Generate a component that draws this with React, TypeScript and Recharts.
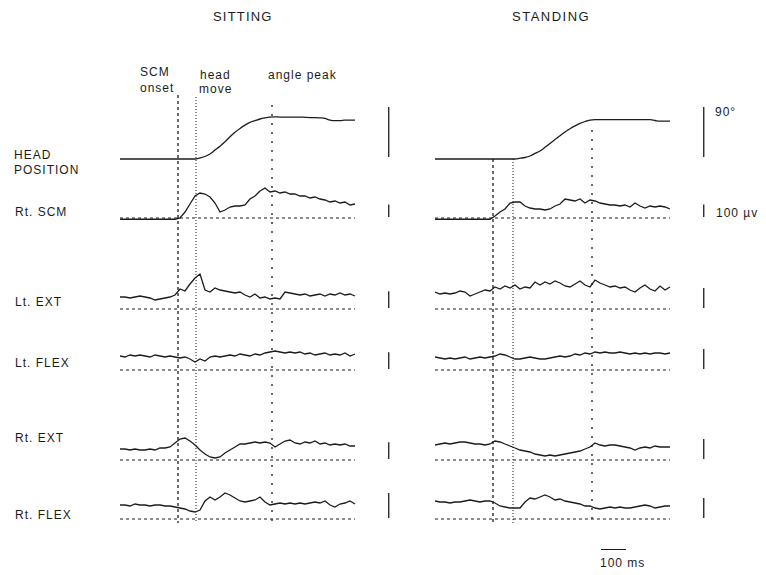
import { LineChart, Line, XAxis, YAxis, ReferenceLine } from 'recharts';

// sample times, ms from the start of each sweep
const time = [
  0, 20, 40, 60, 80, 100, 120, 140, 160, 180, 200, 220, 240, 260, 280, 300,
  320, 340, 360, 380, 400, 420, 440, 460, 480, 500, 520, 540, 560, 580, 600, 620,
  640, 660, 680, 700, 720, 740, 760, 780, 800, 820, 840, 860, 880, 900, 920, 940,
];

// SITTING: head angle (deg) and EMG (uV)
const sitHead = [
  0, 0, 0, 0, 0, 0, 0, 0, 0, 0, 0, 0, 0, 0, 0, 0,
  2, 4.5, 9, 16, 23, 31, 40, 48, 55, 61, 66, 69, 72, 74, 75.5, 76,
  75.5, 75.5, 75.5, 75.5, 75.5, 75, 74.5, 74.5, 74, 73, 70, 69, 69, 70, 70, 70,
];
const sitScm = [
  -10, -10, -10, -10, -10, -10, -10, -10, -10, -10, -10, -10, 0, 48, 112, 176,
  200, 192, 168, 120, 48, 64, 88, 96, 96, 104, 152, 176, 216, 240, 208, 216,
  200, 208, 192, 192, 176, 176, 160, 168, 152, 144, 128, 136, 120, 128, 104, 112,
];
const sitLtExt = [
  72, 72, 66, 72, 78, 72, 66, 54, 60, 66, 72, 84, 120, 108, 150, 186,
  210, 114, 102, 126, 114, 108, 102, 96, 102, 84, 72, 90, 66, 72, 60, 66,
  60, 102, 96, 90, 84, 90, 78, 84, 90, 78, 90, 84, 96, 84, 90, 78,
];
const sitLtFlex = [
  84, 78, 90, 84, 90, 84, 78, 90, 84, 78, 84, 78, 72, 78, 66, 48,
  66, 54, 78, 84, 78, 84, 90, 84, 96, 90, 84, 96, 90, 102, 108, 114,
  108, 102, 108, 102, 108, 96, 102, 90, 96, 102, 90, 96, 90, 102, 84, 96,
];
const sitRtExt = [
  66, 66, 60, 66, 60, 60, 66, 60, 72, 72, 78, 102, 126, 132, 114, 90,
  60, 36, 18, 12, 18, 42, 60, 78, 96, 96, 102, 108, 102, 108, 102, 78,
  96, 114, 120, 102, 96, 108, 102, 114, 96, 102, 90, 96, 90, 96, 84, 84,
];
const sitRtFlex = [
  56, 56, 52, 60, 56, 56, 52, 56, 56, 52, 52, 48, 44, 40, 32, 28,
  36, 72, 88, 76, 88, 104, 96, 84, 72, 68, 72, 76, 88, 68, 56, 60,
  64, 60, 64, 60, 64, 60, 64, 68, 64, 72, 56, 48, 60, 64, 72, 60,
];

// STANDING
const standHead = [
  0, 0, 0, 0, 0, 0, 0, 0, 0, 0, 0, 0, 0, 0, 0, 0,
  0, 1.4, 2.7, 5.4, 10, 14.5, 21, 28, 35, 42, 48.5, 54.5, 59.5, 64, 67.5, 70,
  70.7, 70.7, 70.7, 70.7, 70.7, 70.7, 70.7, 70.7, 70.7, 70.7, 70.7, 70.7, 69.3, 68, 68, 68,
];
const standScm = [
  -10, -10, -10, -10, -10, -10, -10, -10, -10, -10, -10, -10, 16, 48, 72, 120,
  128, 128, 96, 80, 72, 72, 64, 72, 96, 112, 152, 144, 136, 152, 120, 144,
  136, 120, 112, 104, 104, 96, 104, 88, 120, 96, 80, 96, 88, 96, 88, 72,
];
const standLtExt = [
  85, 75, 80, 75, 80, 90, 85, 65, 75, 85, 95, 90, 110, 100, 115, 105,
  120, 100, 110, 105, 135, 120, 135, 125, 140, 130, 115, 110, 125, 140, 120, 110,
  145, 130, 120, 110, 115, 105, 110, 95, 85, 105, 120, 100, 90, 115, 95, 110,
];
const standLtFlex = [
  65, 60, 55, 60, 55, 60, 65, 55, 60, 65, 60, 65, 70, 80, 75, 65,
  55, 55, 60, 65, 60, 55, 55, 60, 65, 70, 65, 70, 80, 75, 85, 80,
  90, 85, 90, 85, 85, 90, 85, 80, 85, 80, 85, 80, 85, 85, 80, 85,
];
const standRtExt = [
  75, 80, 85, 80, 85, 90, 90, 85, 80, 80, 75, 80, 95, 90, 80, 70,
  60, 50, 45, 40, 30, 25, 20, 25, 20, 25, 30, 35, 40, 45, 55, 65,
  85, 75, 70, 75, 75, 70, 65, 60, 50, 60, 65, 60, 70, 65, 65, 65,
];
const standRtFlex = [
  90, 85, 85, 80, 85, 85, 90, 95, 90, 85, 90, 90, 80, 65, 60, 55,
  55, 55, 85, 105, 100, 110, 120, 110, 95, 100, 90, 85, 80, 75, 65, 65,
  55, 50, 55, 60, 55, 60, 55, 55, 60, 65, 70, 65, 55, 60, 65, 65,
];

// event markers: SCM onset, head move, angle peak (ms)
const sitEvents = [232, 304, 608];
const standEvents = [232, 312, 628];

const channels = ['head', 'scm', 'ltExt', 'ltFlex', 'rtExt', 'rtFlex'];
const channelLabels = ['Rt. SCM', 'Lt. EXT', 'Lt. FLEX', 'Rt. EXT', 'Rt. FLEX'];

// baseline of each trace on the stacked y scale (1 unit = 1 px)
const LEVEL: Record<string, number> = { head: 376, scm: 317, ltExt: 226, ltFlex: 165, rtExt: 75, rtFlex: 16 };

const INK = '#1c1c1c';
const FONT = '"Liberation Sans", Arial, Helvetica, sans-serif';

type PanelProps = {
  left: number;
  series: Record<string, number[]>;
  gain: Record<string, number>;
  events: number[];
  eventTops: number[];
};

function TracePanel({ left, series, gain, events, eventTops }: PanelProps) {
  const rows = time.map((t, i) => {
    const row: Record<string, number> = { t };
    channels.forEach((c) => {
      row[c] = LEVEL[c] + series[c][i] * gain[c];
    });
    return row;
  });
  const eventDash = ['3 3', '1 2', '2 7'];

  return (
    <div style={{ position: 'absolute', left, top: 95 }}>
      <LineChart width={325} height={480} data={rows} margin={{ top: 0, right: 0, bottom: 0, left: 0 }}>
        <XAxis type="number" dataKey="t" domain={[0, 1300]} hide />
        <YAxis type="number" domain={[-40, 440]} hide />
        {channels.slice(1).map((c) => (
          <ReferenceLine
            key={'base-' + c}
            segment={[{ x: 0, y: LEVEL[c] }, { x: 940, y: LEVEL[c] }]}
            stroke={INK}
            strokeWidth={1.2}
            strokeDasharray="3 3"
          />
        ))}
        {events.map((e, k) => (
          <ReferenceLine
            key={'ev-' + k}
            segment={[{ x: e, y: eventTops[k] }, { x: e, y: 12 }]}
            stroke={INK}
            strokeWidth={k === 1 ? 1 : 1.3}
            strokeDasharray={eventDash[k]}
          />
        ))}
        <ReferenceLine
          segment={[{ x: 1075, y: LEVEL.head + 2 }, { x: 1075, y: LEVEL.head + 2 + 90 * gain.head }]}
          stroke={INK}
          strokeWidth={1.3}
        />
        {channels.slice(1).map((c) => (
          <ReferenceLine
            key={'cal-' + c}
            segment={[{ x: 1075, y: LEVEL[c] + 1 }, { x: 1075, y: LEVEL[c] + 1 + 100 * gain[c] }]}
            stroke={INK}
            strokeWidth={1.3}
          />
        ))}
        {channels.map((c) => (
          <Line
            key={c}
            dataKey={c}
            type={c === 'head' ? 'monotone' : 'linear'}
            stroke={INK}
            strokeWidth={1.3}
            dot={false}
            isAnimationActive={false}
          />
        ))}
      </LineChart>
    </div>
  );
}

const txt = (left: number, top: number, s: string, size = 12, spacing = 1) => (
  <div
    style={{
      position: 'absolute',
      left,
      top,
      fontSize: size,
      lineHeight: `${size}px`,
      letterSpacing: spacing,
      color: INK,
      whiteSpace: 'nowrap',
    }}
  >
    {s}
  </div>
);

export default function App() {
  const labelTops = [206, 296, 357, 432, 509];
  return (
    <div
      style={{
        position: 'absolute',
        left: 0,
        top: 0,
        width: 766,
        height: 575,
        background: '#fff',
        fontFamily: FONT,
        overflow: 'hidden',
      }}
    >
      {txt(213, 10, 'SITTING', 13, 1.2)}
      {txt(512, 10, 'STANDING', 13, 1.5)}

      {txt(140, 66, 'SCM')}
      {txt(140, 82, 'onset')}
      {txt(200, 69, 'head')}
      {txt(199, 83, 'move')}
      {txt(268, 69, 'angle peak')}

      {txt(14, 149, 'HEAD')}
      {txt(14, 164, 'POSITION')}
      {channelLabels.map((l, i) => (
        <div key={l}>{txt(15, labelTops[i], l)}</div>
      ))}

      <TracePanel
        left={120}
        series={{ head: sitHead, scm: sitScm, ltExt: sitLtExt, ltFlex: sitLtFlex, rtExt: sitRtExt, rtFlex: sitRtFlex }}
        gain={{ head: 5 / 9, scm: 0.125, ltExt: 1 / 6, ltFlex: 1 / 6, rtExt: 1 / 6, rtFlex: 0.25 }}
        events={sitEvents}
        eventTops={[440, 438, 430]}
      />
      <TracePanel
        left={435}
        series={{ head: standHead, scm: standScm, ltExt: standLtExt, ltFlex: standLtFlex, rtExt: standRtExt, rtFlex: standRtFlex }}
        gain={{ head: 5 / 9, scm: 0.125, ltExt: 0.2, ltFlex: 0.2, rtExt: 0.2, rtFlex: 0.2 }}
        events={standEvents}
        eventTops={[376, 376, 405]}
      />

      {/* 100 ms time calibration */}
      <div style={{ position: 'absolute', left: 601, top: 549, width: 25, height: 0, borderTop: `1.3px solid ${INK}` }} />
      {txt(715, 106, '90°')}
      {txt(716, 207, '100 µv')}
      {txt(600, 557, '100 ms')}
    </div>
  );
}
